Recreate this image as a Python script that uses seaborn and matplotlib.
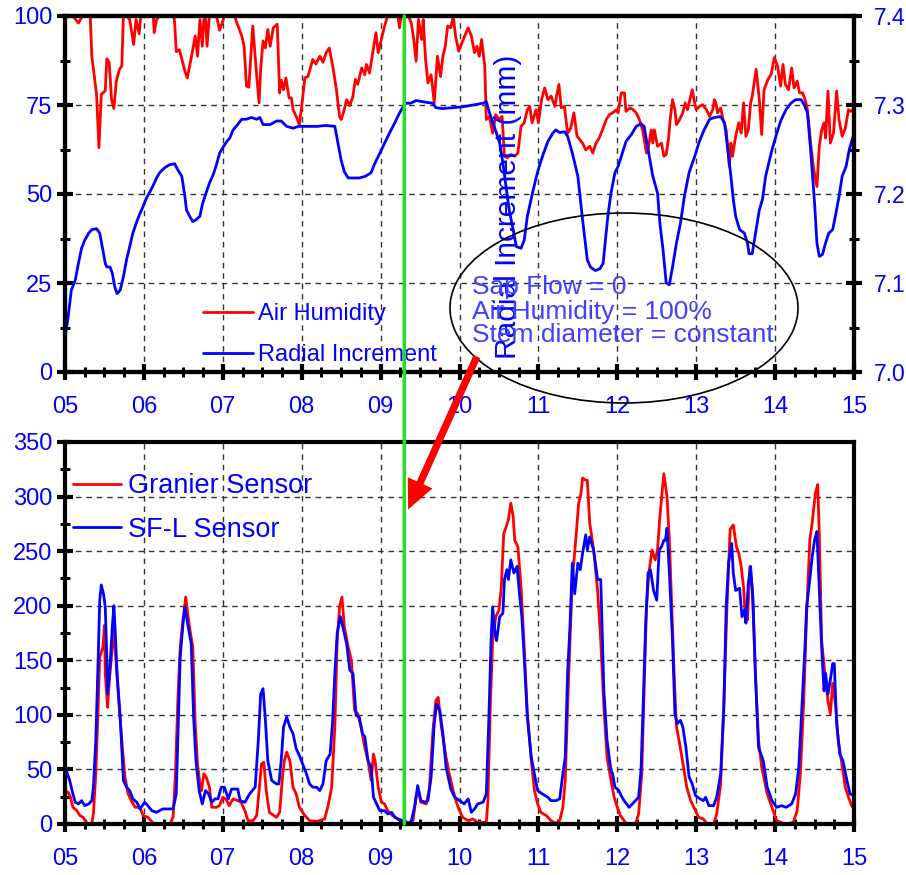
import numpy as np
import pandas as pd
import matplotlib
matplotlib.use("Agg")
import matplotlib.pyplot as plt
import seaborn as sns
from matplotlib.ticker import MultipleLocator, FuncFormatter, FormatStrFormatter
from matplotlib.patches import Ellipse, FancyArrowPatch, ConnectionPatch

# ---------------- data ----------------
hum_day = [5.00, 5.10, 5.17, 5.22, 5.32, 5.34, 5.40, 5.43, 5.46, 5.51, 5.53, 5.56, 5.59, 5.62, 5.65, 5.69, 5.72, 5.74,
           5.78, 5.82, 5.87, 5.90, 5.94, 5.96, 6.12, 6.13, 6.16, 6.20, 6.38, 6.39, 6.41, 6.45, 6.52, 6.55, 6.58, 6.62,
           6.65, 6.68, 6.71, 6.74, 6.76, 6.78, 6.80, 6.83, 6.92, 6.96, 7.00, 7.02, 7.15, 7.17, 7.24, 7.27, 7.30, 7.33,
           7.36, 7.38, 7.43, 7.46, 7.48, 7.51, 7.54, 7.57, 7.60, 7.64, 7.69, 7.72, 7.74, 7.77, 7.80, 7.84, 7.87, 7.89,
           7.93, 7.97, 8.00, 8.04, 8.08, 8.14, 8.18, 8.23, 8.27, 8.31, 8.35, 8.40, 8.44, 8.48, 8.50, 8.54, 8.57, 8.61,
           8.65, 8.68, 8.71, 8.76, 8.80, 8.82, 8.86, 8.90, 8.94, 8.97, 9.01, 9.05, 9.09, 9.22, 9.24, 9.26, 9.35, 9.39,
           9.42, 9.45, 9.48, 9.52, 9.54, 9.57, 9.60, 9.64, 9.68, 9.72, 9.76, 9.79, 9.82, 9.85, 9.89, 9.92, 9.95, 9.99,
           10.04, 10.11, 10.15, 10.19, 10.22, 10.25, 10.28, 10.32, 10.34, 10.38, 10.42, 10.46, 10.50, 10.54, 10.57,
           10.61, 10.65, 10.70, 10.74, 10.78, 10.82, 10.86, 10.89, 10.92, 10.97, 11.00, 11.04, 11.08, 11.12, 11.16,
           11.21, 11.23, 11.26, 11.29, 11.33, 11.37, 11.41, 11.45, 11.49, 11.56, 11.60, 11.65, 11.69, 11.73, 11.77,
           11.82, 11.86, 11.90, 11.94, 11.99, 12.01, 12.05, 12.09, 12.11, 12.16, 12.20, 12.24, 12.28, 12.32, 12.37,
           12.39, 12.43, 12.45, 12.47, 12.51, 12.56, 12.59, 12.62, 12.65, 12.67, 12.70, 12.73, 12.75, 12.79, 12.83,
           12.86, 12.89, 12.92, 12.95, 12.98, 13.00, 13.04, 13.08, 13.13, 13.17, 13.21, 13.23, 13.25, 13.27, 13.31,
           13.34, 13.38, 13.42, 13.44, 13.46, 13.50, 13.54, 13.57, 13.60, 13.63, 13.66, 13.69, 13.71, 13.76, 13.80,
           13.83, 13.86, 13.91, 13.95, 13.99, 14.03, 14.07, 14.10, 14.13, 14.17, 14.21, 14.24, 14.28, 14.31, 14.35,
           14.38, 14.41, 14.45, 14.49, 14.53, 14.56, 14.59, 14.62, 14.64, 14.67, 14.70, 14.74, 14.78, 14.81, 14.85,
           14.89, 14.93, 14.96, 15.00]
hum_val = [100, 100, 98, 100, 100, 88.7, 78, 63, 78, 79, 88, 87, 76.5, 74, 81.7, 85, 86, 100,
           100, 99, 92, 99, 95, 100, 100, 95.3, 99, 100, 100, 98, 90, 90.5, 84.5, 82.6, 86, 90.6,
           94.4, 88.7, 99, 91.5, 99, 100, 91.5, 100, 100, 96, 98.6, 100, 100, 98.6, 94.4, 91.5, 80.3, 80,
           90.6, 97.2, 83, 75.6, 85, 93, 91, 96.2, 91.5, 96.7, 97.7, 78.4, 82, 79.3, 82.6, 77, 77, 73.7,
           71.8, 69.5, 74.6, 82.6, 83, 87.8, 86.5, 88.7, 87, 89.7, 91, 85, 79.3, 71.8, 70.9, 73.7, 76.5, 74.8,
           77.5, 82.2, 80.8, 85.4, 83.5, 86.4, 84, 89.7, 95.3, 89.7, 93.4, 97.2, 100, 100, 96.7, 100, 100, 98,
           93.4, 87.3, 99, 93.4, 99, 87.8, 81.2, 83.5, 75.6, 88.7, 83, 88.7, 91.5, 97.2, 96.7, 100, 94.4, 90.1,
           93, 96.7, 94.4, 89.7, 91.5, 88.7, 93.4, 85.9, 70.9, 71.8, 67.1, 72.3, 70.9, 71.8, 60.6,
           60.2, 61.1, 60.6, 61.5, 69, 70, 73.7, 74.6, 70, 73.7, 70, 76.5, 79.8, 76.5, 77.5,
           74.6, 77.5, 80.8, 74.2, 74.6, 67.1, 68.5, 72.8, 66.2, 64.3, 62.4, 63.4, 61.5, 64.3, 65.7,
           68.5, 70.9, 72.3, 72.8, 73.7, 72.8, 78.4, 78.4, 73.2, 74.2, 73.7, 72.8, 70.9, 68, 61.5,
           62.4, 68, 64.3, 68, 63.4, 64.3, 60.6, 61.1, 65.7, 70.9, 76.5, 73.7, 69.5, 70.9, 72.8,
           75.6, 73.7, 76.5, 79.3, 75.6, 73.7, 74.6, 75.1, 73.7, 71.8, 73.7, 76.5, 75.6, 72.8, 74.2,
           70.9, 68, 57.7, 64.3, 60.6, 66.2, 70, 67.1, 75.6, 66.2, 68, 75.6, 77.5, 85, 76.5,
           66.7, 79.3, 82.2, 83.6, 88.3, 86, 80.3, 86.4, 80.8, 79.3, 85.4, 79.8, 81.7, 78.4, 78.4,
           76.5, 73.7, 64.3, 56.8, 52.1, 63.4, 68, 70, 65.7, 78.9, 64.3, 67.1, 78.9, 70.9, 66.2,
           68.5, 73.7, 73.2, 74]

rad_day = [5.00, 5.04, 5.08, 5.13, 5.17, 5.21, 5.25, 5.30, 5.34, 5.40, 5.44, 5.48, 5.51, 5.53, 5.57, 5.60, 5.63, 5.66,
           5.70, 5.74, 5.78, 5.82, 5.86, 5.91, 5.95, 5.99, 6.03, 6.08, 6.12, 6.16, 6.20, 6.27, 6.33, 6.39, 6.43, 6.48,
           6.52, 6.54, 6.58, 6.62, 6.66, 6.71, 6.74, 6.78, 6.83, 6.88, 6.92, 6.96, 7.00, 7.05, 7.09, 7.13, 7.17, 7.24,
           7.30, 7.36, 7.43, 7.47, 7.51, 7.60, 7.68, 7.74, 7.81, 7.89, 7.96, 8.06, 8.20, 8.30, 8.42, 8.46, 8.50, 8.54,
           8.59, 8.65, 8.73, 8.81, 8.88, 8.92, 8.99, 9.05, 9.11, 9.18, 9.24, 9.28, 9.32, 9.38, 9.45, 9.58, 9.66, 9.70,
           9.78, 9.92, 10.04, 10.17, 10.30, 10.34, 10.38, 10.44, 10.51, 10.55, 10.59, 10.63, 10.68, 10.72, 10.78,
           10.82, 10.86, 10.93, 10.99, 11.05, 11.12, 11.18, 11.22, 11.27, 11.33, 11.37, 11.43, 11.50, 11.56, 11.62,
           11.66, 11.72, 11.78, 11.82, 11.85, 11.88, 11.92, 11.97, 12.01, 12.05, 12.11, 12.18, 12.24, 12.30, 12.34,
           12.39, 12.45, 12.51, 12.54, 12.58, 12.62, 12.66, 12.70, 12.75, 12.80, 12.85, 12.91, 12.98, 13.04, 13.10,
           13.17, 13.23, 13.31, 13.36, 13.40, 13.44, 13.47, 13.50, 13.55, 13.61, 13.65, 13.67, 13.71, 13.76, 13.80,
           13.84, 13.88, 13.95, 14.01, 14.07, 14.14, 14.20, 14.26, 14.33, 14.37, 14.41, 14.45, 14.50, 14.53, 14.56,
           14.60, 14.64, 14.68, 14.73, 14.77, 14.81, 14.85, 14.90, 14.94, 15.00]
rad_mm = [7.038, 7.062, 7.092, 7.103, 7.122, 7.139, 7.148, 7.156, 7.160, 7.161, 7.156, 7.137, 7.122, 7.118, 7.118,
          7.111, 7.096, 7.088, 7.092, 7.107, 7.126, 7.141, 7.156, 7.169, 7.178, 7.186, 7.195, 7.203, 7.210, 7.218,
          7.224, 7.230, 7.233, 7.234, 7.227, 7.220, 7.197, 7.182, 7.175, 7.169, 7.171, 7.175, 7.188, 7.199, 7.212,
          7.222, 7.233, 7.246, 7.252, 7.259, 7.263, 7.272, 7.276, 7.284, 7.284, 7.286, 7.284, 7.286, 7.278, 7.278,
          7.282, 7.282, 7.276, 7.274, 7.276, 7.276, 7.276, 7.277, 7.276, 7.257, 7.238, 7.225, 7.218, 7.218, 7.218,
          7.220, 7.224, 7.233, 7.246, 7.257, 7.268, 7.280, 7.291, 7.297, 7.302, 7.302, 7.305, 7.303, 7.302, 7.297,
          7.296, 7.297, 7.298, 7.300, 7.302, 7.304, 7.291, 7.276, 7.257, 7.235, 7.208, 7.182, 7.160, 7.141, 7.139,
          7.148, 7.175, 7.203, 7.225, 7.242, 7.259, 7.268, 7.272, 7.269, 7.270, 7.265, 7.246, 7.220, 7.171, 7.126,
          7.118, 7.114, 7.116, 7.122, 7.148, 7.175, 7.201, 7.224, 7.231, 7.242, 7.259, 7.267, 7.276, 7.279, 7.276,
          7.250, 7.220, 7.201, 7.167, 7.137, 7.100, 7.098, 7.118, 7.145, 7.167, 7.197, 7.224, 7.242, 7.259, 7.272,
          7.284, 7.286, 7.287, 7.280, 7.250, 7.220, 7.194, 7.175, 7.160, 7.156, 7.145, 7.133, 7.133, 7.160, 7.182,
          7.194, 7.220, 7.246, 7.265, 7.282, 7.295, 7.302, 7.306, 7.306, 7.300, 7.291, 7.250, 7.190, 7.145, 7.130,
          7.132, 7.145, 7.156, 7.160, 7.178, 7.197, 7.220, 7.231, 7.250, 7.268]

gran_day = [5.00, 5.04, 5.07, 5.10, 5.15, 5.19, 5.23, 5.27, 5.31, 5.34, 5.36, 5.39, 5.42, 5.44, 5.48, 5.50, 5.51, 5.54,
            5.55, 5.57, 5.60, 5.62, 5.64, 5.68, 5.72, 5.76, 5.80, 5.84, 5.89, 5.95, 5.99, 6.05, 6.12, 6.20, 6.33, 6.37,
            6.40, 6.43, 6.46, 6.50, 6.53, 6.56, 6.59, 6.62, 6.65, 6.68, 6.71, 6.73, 6.76, 6.79, 6.83, 6.86, 6.92, 6.96,
            7.00, 7.04, 7.08, 7.13, 7.19, 7.23, 7.28, 7.32, 7.38, 7.43, 7.46, 7.49, 7.52, 7.55, 7.59, 7.68, 7.72, 7.76,
            7.78, 7.81, 7.85, 7.89, 7.93, 7.97, 8.04, 8.10, 8.20, 8.29, 8.33, 8.38, 8.42, 8.45, 8.48, 8.51, 8.54, 8.59,
            8.63, 8.67, 8.71, 8.76, 8.80, 8.84, 8.88, 8.91, 8.93, 8.97, 9.01, 9.05, 9.09, 9.15, 9.22, 9.28, 9.35, 9.41,
            9.45, 9.48, 9.51, 9.58, 9.62, 9.66, 9.70, 9.73, 9.77, 9.83, 9.87, 9.92, 9.96, 10.00, 10.04, 10.11, 10.17,
            10.23, 10.34, 10.36, 10.39, 10.42, 10.46, 10.50, 10.53, 10.56, 10.59, 10.62, 10.65, 10.68, 10.70, 10.74,
            10.78, 10.82, 10.86, 10.91, 10.95, 10.99, 11.03, 11.10, 11.16, 11.22, 11.27, 11.31, 11.34, 11.37, 11.40,
            11.43, 11.48, 11.51, 11.54, 11.56, 11.60, 11.62, 11.65, 11.70, 11.75, 11.79, 11.83, 11.87, 11.92, 11.96,
            12.00, 12.04, 12.11, 12.23, 12.27, 12.31, 12.34, 12.37, 12.40, 12.44, 12.48, 12.51, 12.54, 12.57, 12.59,
            12.63, 12.66, 12.69, 12.72, 12.75, 12.79, 12.84, 12.88, 12.93, 12.97, 13.03, 13.09, 13.14, 13.22, 13.26,
            13.31, 13.35, 13.39, 13.43, 13.47, 13.51, 13.54, 13.57, 13.60, 13.62, 13.65, 13.68, 13.71, 13.75, 13.79,
            13.83, 13.90, 13.96, 14.02, 14.13, 14.23, 14.28, 14.32, 14.36, 14.40, 14.44, 14.47, 14.51, 14.54, 14.56,
            14.59, 14.63, 14.67, 14.70, 14.73, 14.77, 14.80, 14.84, 14.89, 14.93, 14.97, 15.00]
gran_val = [30.6, 29, 24.5, 15.3, 12.2, 7.7, 6.1, 1.5, 0, 1, 9.2, 46, 107, 153, 162, 182, 138, 107,
            119, 138, 162, 178, 156, 113, 76.5, 42.9, 27.6, 21.4, 15.3, 15.3, 7.7, 6.1, 0.6, 0, 0, 6.1,
            46, 113, 162, 190, 208, 190, 175, 162, 92, 55, 36.7, 30.6, 46, 43, 33.7, 15.3, 15.3, 17,
            24.5, 23, 16.8, 23, 21.4, 20, 12.2, 3, 3, 7.7, 30.6, 55, 56.6, 30.6, 10.7, 6.1, 10.7, 46,
            58.2, 65.8, 58, 33.7, 27.6, 15.3, 7.7, 3, 2.5, 4.6, 15.3, 33.7, 89, 168, 199, 208, 181, 162,
            150, 104, 101, 86, 70, 58, 40, 64, 58, 33.7, 20, 18.4, 12.2, 7.7, 4.6, 3, 0.6, 3,
            24.5, 30.6, 20, 18.4, 33.7, 82.7, 113, 116, 89, 61, 46, 30.6, 20, 12.2, 6.1, 3, 4.6,
            1.5, 1.5, 21.4, 107, 168, 190, 196, 217, 266, 272, 279, 294, 282, 260, 254,
            217, 162, 101, 58, 30.6, 18.4, 10.7, 7.7, 3, 0.6, 3, 15.3, 40, 107, 168,
            224, 266, 294, 303, 317, 315, 315, 276, 251, 214, 168, 107, 61, 40, 24.5,
            15.3, 7.7, 0.6, 0, 9.2, 46, 122, 199, 230, 251, 242, 251, 282, 306, 321,
            300, 260, 199, 138, 89, 73.5, 52, 33.7, 21.4, 15.3, 6.1, 4.6, 0, 0, 9.2,
            36.7, 107, 199, 270, 274, 254, 248, 236, 217, 193, 187, 236, 217, 138, 76.5,
            52, 27.6, 15.3, 3, 0, 1.5, 12.2, 46, 107, 193, 260, 276, 303, 311, 266,
            168, 138, 113, 101, 129, 107, 76.5, 58, 33.7, 24.5, 16.8, 13.8]

sfl_day = [5.00, 5.03, 5.06, 5.10, 5.13, 5.17, 5.21, 5.25, 5.30, 5.34, 5.36, 5.39, 5.42, 5.44, 5.46, 5.49, 5.51, 5.53,
           5.54, 5.57, 5.60, 5.62, 5.64, 5.66, 5.70, 5.74, 5.78, 5.82, 5.86, 5.91, 5.95, 6.01, 6.05, 6.10, 6.16, 6.20,
           6.24, 6.33, 6.37, 6.41, 6.43, 6.46, 6.50, 6.52, 6.56, 6.60, 6.63, 6.66, 6.70, 6.74, 6.78, 6.82, 6.86, 6.90,
           6.94, 6.98, 7.02, 7.07, 7.11, 7.15, 7.19, 7.22, 7.28, 7.34, 7.41, 7.45, 7.48, 7.51, 7.54, 7.57, 7.62, 7.68,
           7.71, 7.74, 7.77, 7.81, 7.85, 7.89, 7.93, 7.97, 8.02, 8.06, 8.10, 8.14, 8.19, 8.23, 8.27, 8.31, 8.36, 8.39,
           8.42, 8.45, 8.49, 8.52, 8.57, 8.61, 8.65, 8.69, 8.73, 8.77, 8.80, 8.84, 8.88, 8.91, 8.95, 8.99, 9.05, 9.09,
           9.14, 9.18, 9.24, 9.31, 9.35, 9.39, 9.43, 9.47, 9.51, 9.56, 9.60, 9.64, 9.68, 9.71, 9.75, 9.79, 9.83, 9.89,
           9.94, 10.00, 10.06, 10.11, 10.15, 10.19, 10.23, 10.30, 10.34, 10.37, 10.40, 10.42, 10.45, 10.47, 10.51,
           10.55, 10.57, 10.60, 10.62, 10.65, 10.69, 10.73, 10.76, 10.79, 10.82, 10.86, 10.91, 10.95, 10.99, 11.05,
           11.12, 11.16, 11.22, 11.27, 11.31, 11.34, 11.37, 11.40, 11.43, 11.46, 11.50, 11.53, 11.56, 11.60, 11.62,
           11.65, 11.70, 11.75, 11.79, 11.83, 11.87, 11.92, 11.94, 11.97, 12.02, 12.06, 12.10, 12.15, 12.21, 12.27,
           12.30, 12.32, 12.36, 12.39, 12.42, 12.46, 12.50, 12.53, 12.56, 12.59, 12.61, 12.63, 12.66, 12.70, 12.73,
           12.76, 12.80, 12.83, 12.87, 12.91, 12.95, 12.99, 13.05, 13.09, 13.12, 13.16, 13.22, 13.26, 13.31, 13.35,
           13.38, 13.41, 13.45, 13.47, 13.50, 13.55, 13.58, 13.61, 13.63, 13.66, 13.69, 13.72, 13.75, 13.79, 13.82,
           13.85, 13.90, 13.96, 14.02, 14.08, 14.14, 14.21, 14.26, 14.30, 14.34, 14.38, 14.40, 14.44, 14.47, 14.50,
           14.53, 14.56, 14.59, 14.62, 14.64, 14.67, 14.70, 14.73, 14.75, 14.78, 14.82, 14.86, 14.91, 14.95, 15.00]
sfl_val = [53.6, 46, 39.8, 27.6, 19.9, 18.4, 21.4, 16.8, 18.4, 21.4, 33.7, 76.5, 150, 205, 219, 210, 199, 153,
           119, 144, 181, 200, 171, 138, 98, 40, 33.7, 30.6, 23, 19.9, 13.8, 19.9, 16.8, 12.2, 10.7, 12.2,
           13.8, 13.8, 13.8, 27.6, 76.5, 153, 187, 199, 181, 165, 98, 58, 30.6, 18.4, 30.6, 27.6, 19.9, 23,
           23, 33.7, 33.7, 23, 32, 32, 32, 21.4, 19.9, 27.6, 33.7, 76.5, 119, 124, 95, 58.2, 39.8, 36.7,
           36.7, 58, 88.8, 98, 88.8, 82.7, 69, 62.8, 53.6, 46, 36.7, 33.7, 33.7, 30.6, 36.7, 58, 64, 92,
           138, 175, 190, 181, 165, 141, 138, 99.5, 98, 82.7, 80, 58, 52, 24.5, 18.4, 12.2, 12.2, 9.2,
           10.7, 6.1, 3.7, 3, 0, 3, 15.3, 35.2, 21.4, 20, 21.4, 42.9, 92, 110, 104, 82.7, 52, 32,
           24.5, 21.4, 18.4, 23, 10.7, 13.8, 18.4, 20, 27.6, 92, 168, 199, 175, 168, 190,
           193, 224, 233, 224, 242, 230, 236, 211, 190, 153, 98, 61, 46, 30.6, 27.6,
           24.5, 21.4, 21.4, 23, 46, 61, 138, 181, 239, 211, 239, 233, 248, 265, 251,
           263, 251, 224, 224, 122, 76.5, 49, 46, 33.7, 30.6, 24.5, 19.9, 15.3, 19.9, 24.5,
           49, 92, 184, 230, 233, 214, 205, 251, 254, 260, 260, 271, 230, 168, 101,
           92, 95, 89, 70, 43, 36.7, 26, 23, 21.4, 24.5, 16.8, 16.8, 24.5, 46, 107,
           199, 239, 257, 230, 214, 216, 190, 196, 184, 220, 236, 205, 138, 70, 64,
           58, 33.7, 21.4, 15.3, 16.8, 15.3, 18.4, 27.6, 52, 107, 165, 199, 224, 245, 260,
           268, 214, 162, 122, 138, 119, 132, 147, 147, 92, 64, 58, 40, 27.6, 26]

x_ticks = [5, 6, 7, 8, 9, 10, 11, 12, 13, 14, 15]
x_ticklabels = ["05", "06", "07", "08", "09", "10", "11", "12", "13", "14", "15"]
top_labels = ["Air Humidity", "Radial Increment"]
bottom_labels = ["Granier Sensor", "SF-L Sensor"]
note_lines = ["Sap Flow = 0", "Air Humidity = 100%", "Stem diameter = constant"]
marker_day = 9.3

# ---------------- style ----------------
sns.set_style("white")
plt.rcParams['font.family'] = ['Liberation Sans', 'DejaVu Sans']

W, H = 906, 875
fig = plt.figure(figsize=(W / 100, H / 100), dpi=100)

def fx(px):
    return px / W

def fy(py):
    return 1 - py / H

L, R = 65, 854
ax1 = fig.add_axes([fx(L), fy(372), (R - L) / W, (372 - 16) / H])
ax2 = fig.add_axes([fx(L), fy(824), (R - L) / W, (824 - 442) / H])
ax1r = ax1.twinx()

RED, BLUE = "#ff0000", "#0000ff"
LW = 2.0

sns.lineplot(x=hum_day, y=hum_val, ax=ax1, color=RED, lw=LW, legend=False)
sns.lineplot(x=rad_day, y=rad_mm, ax=ax1r, color=BLUE, lw=LW, legend=False)
sns.lineplot(x=gran_day, y=gran_val, ax=ax2, color=RED, lw=LW, legend=False)
sns.lineplot(x=sfl_day, y=sfl_val, ax=ax2, color=BLUE, lw=LW, legend=False)

TICKFS = 17

for ax in (ax1, ax2):
    ax.set_xlim(5, 15)
    ax.set_xticks(x_ticks)
    ax.set_xticklabels(x_ticklabels)
    ax.xaxis.set_minor_locator(MultipleLocator(0.25))
    ax.grid(True, which='major', color='#333333', lw=1.0, ls=(0, (4, 3.5)))
    ax.set_axisbelow(True)
    for s in ax.spines.values():
        s.set_linewidth(3)
        s.set_color('black')
        s.set_visible(True)
    ax.tick_params(axis='both', which='major', direction='inout', length=12, width=3,
                   color='black', labelcolor=BLUE, labelsize=TICKFS)
    ax.tick_params(axis='both', which='minor', direction='inout', length=7, width=2.2, color='black')
    ax.tick_params(axis='x', which='both', bottom=True, top=False, pad=11)
    ax.tick_params(axis='y', which='both', left=True, right=False, pad=3)
    ax.set_xlabel("")
    ax.set_ylabel("")

ax1.set_ylim(0, 100)
ax1.yaxis.set_major_locator(MultipleLocator(25))
ax1.yaxis.set_minor_locator(MultipleLocator(12.5))

ax2.set_ylim(0, 350)
ax2.yaxis.set_major_locator(MultipleLocator(50))
ax2.yaxis.set_minor_locator(MultipleLocator(25))

ax1r.set_ylim(7.0, 7.4)
ax1r.yaxis.set_major_locator(MultipleLocator(0.1))
ax1r.yaxis.set_minor_locator(MultipleLocator(0.05))
ax1r.yaxis.set_major_formatter(FormatStrFormatter('%.1f'))
ax1r.grid(False)
for s in ax1r.spines.values():
    s.set_linewidth(3)
    s.set_color('black')
ax1r.tick_params(axis='y', which='major', direction='inout', length=12, width=3, color='black',
                 labelcolor=BLUE, labelsize=16.5, right=True, left=False, pad=8.5)
ax1r.tick_params(axis='y', which='minor', direction='inout', length=7, width=2.2, color='black',
                 right=True, left=False)
ax1r.set_xlabel("")
ax1r.set_ylabel("Radial Increment (mm)", color=BLUE, fontsize=21.5)
ax1r.yaxis.set_label_coords((508 - L) / (R - L), (372 - 207) / (372 - 16))
ax1r.yaxis.label.set_va('center')
ax1r.yaxis.label.set_ha('center')
ax1r.yaxis.label.set_rotation(90)

# legends
h_top = [ax1.lines[0], ax1r.lines[0]]
leg1 = ax1r.legend(h_top, top_labels, loc='upper left', bbox_to_anchor=(fx(203), fy(303)),
                   bbox_transform=fig.transFigure, frameon=False, fontsize=17, labelcolor=BLUE,
                   handlelength=2.1, handletextpad=0.25, labelspacing=0.8, borderpad=0, borderaxespad=0)
h_bot = [ax2.lines[0], ax2.lines[1]]
leg2 = ax2.legend(h_bot, bottom_labels, loc='upper left', bbox_to_anchor=(fx(73), fy(473)),
                  bbox_transform=fig.transFigure, frameon=False, fontsize=19.5, labelcolor=BLUE,
                  handlelength=1.78, handletextpad=0.26, labelspacing=0.65, borderpad=0, borderaxespad=0)

# green marker line spanning both panels
con = ConnectionPatch(xyA=(marker_day, 100), coordsA=ax1.transData,
                      xyB=(marker_day, 0), coordsB=ax2.transData,
                      color='#22e022', lw=2.5, zorder=5)
fig.add_artist(con)

# ellipse annotation
ell = Ellipse((fx(624), fy(308)), 348 / W, 190 / H, transform=fig.transFigure,
              fill=False, edgecolor='black', lw=1.2, zorder=6)
fig.add_artist(ell)
for txt, py in zip(note_lines, [287, 312, 335]):
    fig.text(fx(472), fy(py), txt, fontsize=19, color=(0.25, 0.25, 1.0), va='center', ha='left', zorder=7)

# red arrow
arr = FancyArrowPatch((fx(478), fy(354)), (fx(407), fy(512)), transform=fig.transFigure,
                      arrowstyle='simple,head_length=1.4,head_width=1.3,tail_width=0.35',
                      mutation_scale=15, color='#ff0000', lw=0, zorder=8)
fig.add_artist(arr)

fig.savefig("out.png", dpi=100)
